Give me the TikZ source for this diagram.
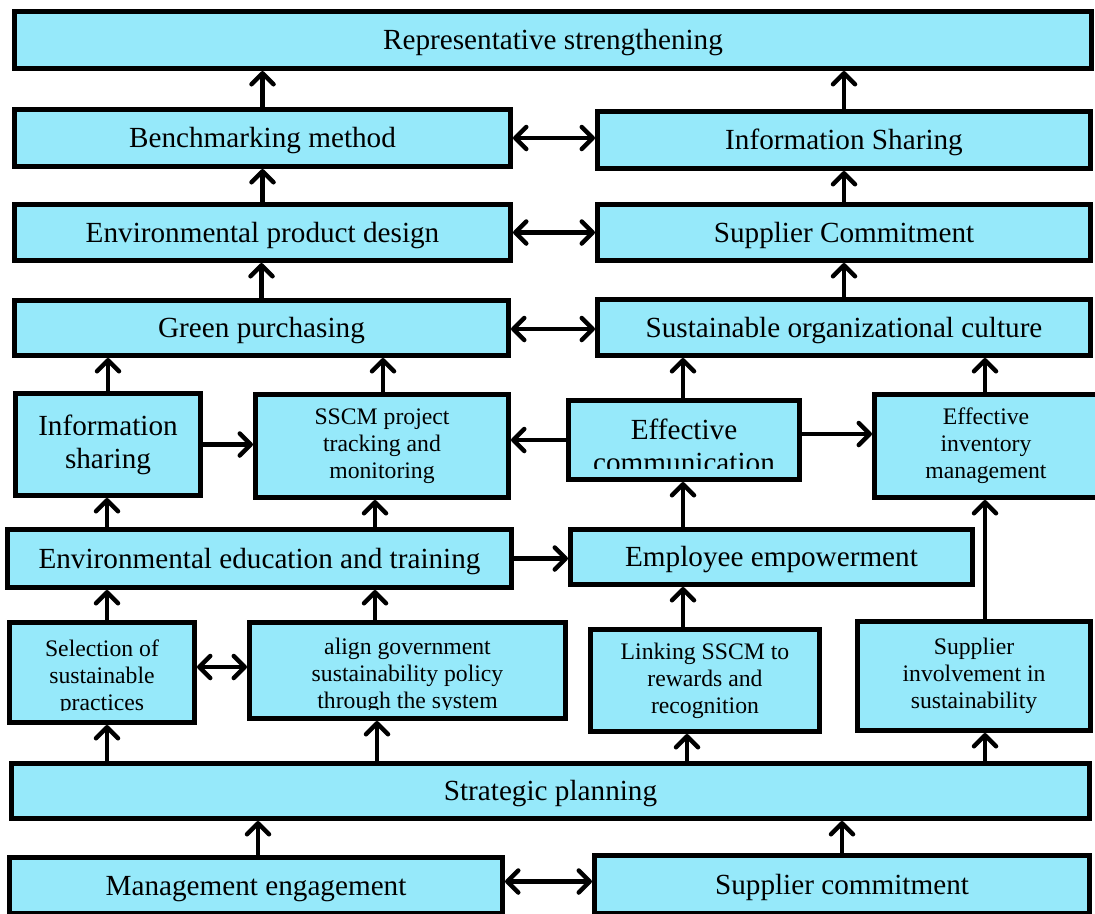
\documentclass[tikz,border=0pt]{standalone}
\usepackage{fontspec}
\setmainfont{Liberation Serif}
\usetikzlibrary{arrows.meta}
\definecolor{boxcyan}{RGB}{150,233,250}
\newcommand*{\lrg}{\fontsize{29.2}{33}\selectfont}
\newcommand*{\sml}{\fontsize{23.7}{27}\selectfont}
\tikzset{
  box/.style={draw, line width=5pt, fill=boxcyan, inner sep=0pt, align=center},
  one/.style={font=\lrg, text height=20pt, text depth=1pt},
  lbl/.style={inner sep=0pt, align=center},
  arr/.style={line width=4.5pt, -{Straight Barb[length=11pt,width=22pt,round]}},
  arrboth/.style={line width=4.5pt, {Straight Barb[length=11pt,width=22pt,round]}-{Straight Barb[length=11pt,width=22pt,round]}}
}

\begin{document}
\begin{tikzpicture}[x=1pt,y=-1pt]
  \useasboundingbox (0,0) rectangle (1095,913);
	% top rows
	\node[box,one,minimum width=1077pt,minimum height=57pt] (rep)     at (553,40)    {Representative strengthening};
	\node[box,one,minimum width=496pt, minimum height=57pt] (bench)   at (262.5,138) {Benchmarking method};
	\node[box,one,minimum width=493pt, minimum height=57pt] (infS)    at (844,140)   {Information Sharing};
	\node[box,one,minimum width=496pt, minimum height=56pt] (envpd)   at (262.5,232.5) {Environmental product design};
	\node[box,one,minimum width=493pt, minimum height=56pt] (supC)    at (844,232.5) {Supplier Commitment};
	\node[box,one,minimum width=494pt, minimum height=55pt] (green)   at (261.5,328) {Green purchasing};
	\node[box,one,minimum width=493pt, minimum height=56pt] (culture) at (844,327.5) {Sustainable organizational culture};
	% middle rows
	\node[box,font=\lrg,minimum width=185pt,minimum height=102pt] (infL) at (108,444.5) {Information\\sharing};
	\node[box,font=\sml,minimum width=253pt,minimum height=103pt] (sscm) at (382,446)   {SSCM project\\tracking and\\monitoring};
	\node[box,minimum width=231pt,minimum height=79pt]            (comm) at (684,440)   {};
	\node[box,font=\sml,minimum width=223pt,minimum height=103pt] (inv)  at (986,446)   {Effective\\inventory\\management};
	\node[box,one,minimum width=504pt,minimum height=58pt] (edu)  at (259.5,558.5) {Environmental education and training};
	\node[box,one,minimum width=402pt,minimum height=55pt] (emp)  at (771.5,557)   {Employee empowerment};
	\node[box,minimum width=185pt,minimum height=100pt]           (sel)   at (102,672.5)  {};
	\node[box,minimum width=316pt,minimum height=96pt]            (align) at (407.5,670.5) {};
	\node[box,font=\sml,minimum width=229pt,minimum height=102pt] (link)  at (705,680.5)  {Linking SSCM to\\rewards and\\recognition};
	\node[box,font=\sml,minimum width=233pt,minimum height=109pt] (supI)  at (974,676)    {Supplier\\involvement in\\sustainability};
	% bottom rows
	\node[box,one,minimum width=1078pt,minimum height=55pt] (strat) at (550.5,791)  {Strategic planning};
	\node[box,one,minimum width=493pt, minimum height=56pt] (mgmt)  at (256,885.5)  {Management engagement};
	\node[box,one,minimum width=495pt, minimum height=58pt] (supB)  at (842,884.5)  {Supplier commitment};
	% texts cut off by their boxes
	\begin{scope}
	  \clip (comm.north west) rectangle ([yshift=14pt]comm.south east);
	  \node[lbl,font=\lrg] (commtxt) at (684,446) {Effective\\communication};
	\end{scope}
	\begin{scope}
	  \clip (sel.north west) rectangle ([yshift=15pt]sel.south east);
	  \node[lbl,font=\sml] (seltxt) at (102,677.5) {Selection of\\sustainable\\practices};
	\end{scope}
	\begin{scope}
	  \clip (align.north west) rectangle ([yshift=12pt]align.south east);
	  \node[lbl,font=\sml] (aligntxt) at (407.5,676) {align government\\sustainability policy\\through the system};
	\end{scope}

	\draw[arr] (bench.north) -- (bench.north |- rep.south);
	\draw[arr] (infS.north) -- (infS.north |- rep.south);
	\draw[arr] (envpd.north) -- (bench.south);
	\draw[arr] (supC.north) -- (infS.south);
	\draw[arr] (green.north) -- (green.north |- envpd.south);
	\draw[arr] (culture.north) -- (culture.north |- supC.south);
	\draw[arr] (infL.north) -- (infL.north |- green.south);
	\draw[arr] ([xshift=1pt]sscm.north) -- ([xshift=1pt]sscm.north |- green.south);
	\draw[arr] ([xshift=-1pt]comm.north) -- ([xshift=-1pt]comm.north |- culture.south);
	\draw[arr] ([xshift=-1pt]inv.north) -- ([xshift=-1pt]inv.north |- culture.south);
	\draw[arr] (infL.east) -- (infL.east -| sscm.west);
	\draw[arr] (comm.west) -- (comm.west -| sscm.east);
	\draw[arr] ([yshift=6pt]comm.east) -- ([yshift=6pt]comm.east -| inv.west);
	\draw[arr] ([xshift=-1pt]infL.south |- edu.north) -- ([xshift=-1pt]infL.south);
	\draw[arr] ([xshift=-7pt]sscm.south |- edu.north) -- ([xshift=-7pt]sscm.south);
	\draw[arr] (edu.east) -- (edu.east -| emp.west);
	\draw[arr] ([xshift=-1pt]comm.south |- emp.north) -- ([xshift=-1pt]comm.south);
	\draw[arr] ([xshift=-1pt]inv.south |- supI.north) -- ([xshift=-1pt]inv.south);
	\draw[arr] ([xshift=5pt]sel.north) -- ([xshift=5pt]sel.north |- edu.south);
	\draw[arr] ([xshift=-7pt]sscm.south |- align.north) -- ([xshift=-7pt]sscm.south |- edu.south);
	\draw[arr] ([xshift=-1pt]comm.south |- link.north) -- ([xshift=-1pt]comm.south |- emp.south);
	\draw[arrboth] ([yshift=5.5pt]sel.east) -- ([yshift=5.5pt]sel.east -| align.west);
	\draw[arr] ([xshift=5pt]sel.south |- strat.north) -- ([xshift=5pt]sel.south);
	\draw[arr] ([xshift=-30.5pt]align.south |- strat.north) -- ([xshift=-30.5pt]align.south);
	\draw[arr] ([xshift=-18pt]link.south |- strat.north) -- ([xshift=-18pt]link.south);
	\draw[arr] ([xshift=11pt]supI.south |- strat.north) -- ([xshift=11pt]supI.south);
	\draw[arr] ([xshift=2pt]mgmt.north) -- ([xshift=2pt]mgmt.north |- strat.south);
	\draw[arr] (supB.north) -- (supB.north |- strat.south);
	\draw[arrboth] (bench.east) -- (bench.east -| infS.west);
	\draw[arrboth] (envpd.east) -- (supC.west);
	\draw[arrboth] ([yshift=-1pt]green.east) -- ([yshift=-1pt]green.east -| culture.west);
	\draw[arrboth] ([yshift=4pt]mgmt.east) -- ([yshift=4pt]mgmt.east -| supB.west);
\end{tikzpicture}
\end{document}
